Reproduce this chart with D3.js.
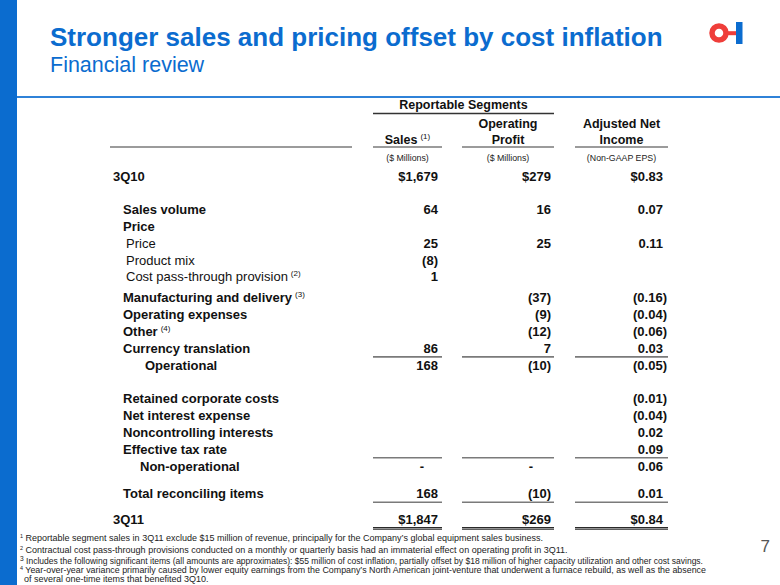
<!DOCTYPE html>
<html>
<head>
<meta charset="utf-8">
<script src="https://cdn.jsdelivr.net/npm/d3@7"></script>
<style>
  html, body { margin: 0; padding: 0; background: #fff; }
  svg { display: block; }
</style>
</head>
<body>
<svg id="chart" width="780" height="585"></svg>
<script>
// ---------- DATA ----------
const titleText = "Stronger sales and pricing offset by cost inflation";
const subtitleText = "Financial review";
const groupHeader = "Reportable Segments";
const columnKeys = ["sales", "op", "eps"];
const columnHeaderLine1 = ["", "Operating", "Adjusted Net"];
const columnHeaderLine2 = ["Sales", "Profit", "Income"];
const columnHeaderNote = ["(1)", "", ""];
const columnUnits = ["($ Millions)", "($ Millions)", "(Non-GAAP EPS)"];

const rowLabels = ["3Q10", "Sales volume", "Price", "Price", "Product mix", "Cost pass-through provision",
  "Manufacturing and delivery", "Operating expenses", "Other", "Currency translation", "Operational",
  "Retained corporate costs", "Net interest expense", "Noncontrolling interests", "Effective tax rate",
  "Non-operational", "Total reconciling items", "3Q11"];
const rowNotes = ["", "", "", "", "", "(2)", "(3)", "", "(4)", "", "", "", "", "", "", "", "", ""];
const salesValues = ["$1,679", "64", "", "25", "(8)", "1", "", "", "", "86", "168", "", "", "", "", "-", "168", "$1,847"];
const opValues = ["$279", "16", "", "25", "", "", "(37)", "(9)", "(12)", "7", "(10)", "", "", "", "", "-", "(10)", "$269"];
const epsValues = ["$0.83", "0.07", "", "0.11", "", "", "(0.16)", "(0.04)", "(0.06)", "0.03", "(0.05)", "(0.01)", "(0.04)", "0.02", "0.09", "0.06", "0.01", "$0.84"];

const footnotes = [
  ["1", " Reportable segment sales in 3Q11 exclude $15 million of revenue, principally for the Company\u2019s global equipment sales business."],
  ["2", " Contractual cost pass-through provisions conducted on a monthly or quarterly basis had an immaterial effect on operating profit in 3Q11."],
  ["3", " Includes the following significant items (all amounts are approximates):  $55 million of cost inflation, partially offset by $18 million of higher capacity utilization and other cost savings."],
  ["4", " Year-over-year variance primarily caused by lower equity earnings from the Company\u2019s North American joint-venture that underwent a furnace rebuild, as well as the absence"],
  ["", "of several one-time items that benefited 3Q10."]
];
const pageNumber = "7";

// ---------- LAYOUT (styles, not data) ----------
const rowSlot = [0, 2, 3, 4, 5, 6, 7.25, 8.25, 9.25, 10.25, 11.25, 13.25, 14.25, 15.25, 16.25, 17.25, 18.9, 20.4];
const rowLevel = [0, 1, 1, 2, 2, 2, 1, 1, 1, 1, 3, 1, 1, 1, 1, 4, 1, 0];
const rowBoldLabel = [1, 1, 1, 0, 0, 0, 1, 1, 1, 1, 1, 1, 1, 1, 1, 1, 1, 1];
const rulesAfter = [9, 14, 16];
const doubleRuleAfter = 17;
const footnoteWidths = [null, null, 683, 686, null];

const BLUE = "#0b6ccf";
const RED = "#ef3e3a";
const FONT = "'Liberation Sans', Arial, Helvetica, sans-serif";
const NARROW = "'Liberation Sans Narrow', 'Arial Narrow', 'Liberation Sans', sans-serif";

const svg = d3.select("#chart");

// left band and top rule
svg.append("rect").attr("x", 0).attr("y", 0).attr("width", 17).attr("height", 585).attr("fill", BLUE);
svg.append("rect").attr("x", 17).attr("y", 96).attr("width", 763).attr("height", 2).attr("fill", "#2f82d8");

// title
svg.append("text").attr("x", 50).attr("y", 46).attr("font-family", FONT).attr("font-weight", "bold")
  .attr("font-size", 26).attr("fill", BLUE).text(titleText);
svg.append("text").attr("x", 50).attr("y", 72).attr("font-family", FONT)
  .attr("font-size", 21.5).attr("fill", BLUE).text(subtitleText);

// logo
const logo = svg.append("g").attr("transform", "translate(719,33)");
logo.append("circle").attr("r", 7).attr("fill", "none").attr("stroke", RED).attr("stroke-width", 5.5);
logo.append("rect").attr("x", 9).attr("y", -1.8).attr("width", 8).attr("height", 4).attr("fill", RED);
logo.append("rect").attr("x", 17).attr("y", -11).attr("width", 6.5).attr("height", 22).attr("fill", BLUE);

// page number
svg.append("text").attr("x", 770).attr("y", 552).attr("text-anchor", "end").attr("font-family", FONT)
  .attr("font-size", 17).attr("fill", "#555").text(pageNumber);

// ---------- SCALES ----------
const y = d3.scaleLinear().domain([0, d3.max(rowSlot)]).range([176, 519]);
const colLeft = d3.scaleOrdinal().domain(columnKeys).range([373, 462, 575]);
const colRight = d3.scaleOrdinal().domain(columnKeys).range([442, 554, 668]);
const valueRight = d3.scaleOrdinal().domain(columnKeys).range([438, 551, 663]);
const labelX = d3.scaleOrdinal().domain([0, 1, 2, 3, 4]).range([113, 123, 126, 145, 140]);
const colValues = { sales: salesValues, op: opValues, eps: epsValues };

// ---------- HEADER ----------
const hdr = svg.append("g").attr("font-family", FONT).attr("font-weight", "bold").attr("font-size", 12.5).attr("fill", "#111");
const rsCenter = (colLeft("sales") + colRight("op")) / 2;
hdr.append("text").attr("x", rsCenter).attr("y", 105).attr("dy", "0.35em").attr("text-anchor", "middle").text(groupHeader);
svg.append("line").attr("x1", colLeft("sales")).attr("x2", colRight("op")).attr("y1", 113.5).attr("y2", 113.5)
  .attr("stroke", "#333").attr("stroke-width", 1.5);

columnKeys.forEach((k, i) => {
  const cx = (colLeft(k) + colRight(k)) / 2;
  if (columnHeaderLine1[i]) {
    hdr.append("text").attr("x", cx).attr("y", 124).attr("dy", "0.35em").attr("text-anchor", "middle").text(columnHeaderLine1[i]);
  }
  const t = hdr.append("text").attr("x", cx).attr("y", 140).attr("dy", "0.35em").attr("text-anchor", "middle");
  t.append("tspan").text(columnHeaderLine2[i]);
  if (columnHeaderNote[i]) {
    t.append("tspan").attr("font-size", 8).attr("font-weight", "normal").attr("dx", 3).attr("dy", -5).text(columnHeaderNote[i]);
  }
  svg.append("text").attr("x", cx).attr("y", 158).attr("dy", "0.35em").attr("text-anchor", "middle")
    .attr("font-family", FONT).attr("font-size", 8.8).attr("fill", "#222").text(columnUnits[i]);
});

// header underlines
const hlines = [[110, 352]].concat(columnKeys.map(k => [colLeft(k), colRight(k)]));
svg.selectAll(".hline").data(hlines).join("line").attr("class", "hline")
  .attr("x1", d => d[0]).attr("x2", d => d[1]).attr("y1", 147).attr("y2", 147)
  .attr("stroke", "#7a7a7a").attr("stroke-width", 1.6);

// ---------- ROWS ----------
const rows = svg.append("g").attr("font-family", FONT).attr("font-size", 13).attr("fill", "#111");
rowLabels.forEach((lab, i) => {
  const t = rows.append("text").attr("x", labelX(rowLevel[i])).attr("y", y(rowSlot[i])).attr("dy", "0.35em")
    .attr("font-weight", rowBoldLabel[i] ? "bold" : "normal");
  t.append("tspan").text(lab);
  if (rowNotes[i]) {
    t.append("tspan").attr("font-size", 8).attr("font-weight", "normal").attr("dx", 3).attr("dy", -5).text(rowNotes[i]);
  }
  columnKeys.forEach(k => {
    const v = colValues[k][i];
    if (!v) return;
    let xr = valueRight(k);
    if (k === "eps" && v.startsWith("(")) xr += 4;
    if (v === "-") xr -= (k === "sales" ? 14 : 18);
    rows.append("text").attr("x", xr).attr("y", y(rowSlot[i])).attr("dy", "0.35em")
      .attr("text-anchor", "end").attr("font-weight", "bold").text(v);
  });
});

// column rules
rulesAfter.forEach(ri => {
  const yy = y(rowSlot[ri]) + 8.5;
  columnKeys.forEach(k => {
    svg.append("line").attr("x1", colLeft(k)).attr("x2", colRight(k)).attr("y1", yy).attr("y2", yy)
      .attr("stroke", "#7a7a7a").attr("stroke-width", 1.6);
  });
});
{
  const yy = y(rowSlot[doubleRuleAfter]) + 8.5;
  columnKeys.forEach(k => {
    [0, 1.6].forEach(off => {
      svg.append("line").attr("x1", colLeft(k)).attr("x2", colRight(k)).attr("y1", yy + off).attr("y2", yy + off)
        .attr("stroke", "#2a2a2a").attr("stroke-width", 1.2);
    });
  });
}

// ---------- FOOTNOTES ----------
const fn = svg.append("g").attr("font-family", NARROW).attr("font-size", 9).attr("fill", "#222");
const fnY = [541, 553, 564, 573, 582];
footnotes.forEach((f, i) => {
  const t = fn.append("text").attr("x", f[0] ? 20 : 24).attr("y", fnY[i]);
  if (footnoteWidths[i]) t.attr("textLength", footnoteWidths[i]).attr("lengthAdjust", "spacingAndGlyphs");
  if (f[0]) t.append("tspan").attr("font-size", i === 2 ? 7 : 5.5).attr("dy", -3).text(f[0]);
  t.append("tspan").attr("dy", f[0] ? 3 : 0).text(f[1]);
});
</script>
</body>
</html>
